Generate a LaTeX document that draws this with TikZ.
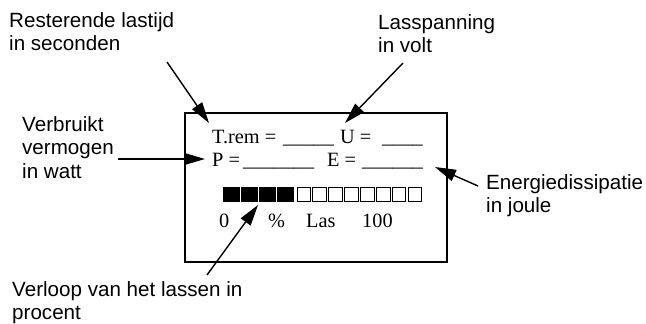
\documentclass[tikz,border=0pt]{standalone}
\usepackage{fontspec}
\setmainfont{Liberation Serif}
\newfontfamily\arialfont{Liberation Sans}
\usetikzlibrary{arrows.meta}
\tikzset{
  lb/.style={font=\arialfont\fontsize{20.6}{23.5}\selectfont,align=left,anchor=north west,inner sep=0pt},
  dt/.style={font=\fontsize{20.3}{24}\selectfont,anchor=base west,inner sep=0pt},
  scr/.style={draw=black,line width=2.8pt},
  ptr/.style={-{Triangle[length=21pt,width=12pt]},line width=1.4pt,draw=black},
  blk/.style={rectangle,draw=black,fill=black,minimum width=16pt,minimum height=13.5pt,inner sep=0pt,line width=.6pt},
  opn/.style={rectangle,draw=black,fill=white,minimum width=13.5pt,minimum height=13.5pt,inner sep=0pt,line width=.9pt},
}
\begin{document}
\begin{tikzpicture}[x=1pt,y=-1pt]
\useasboundingbox (0,0) rectangle (646,324);
% ---------------- the display
\draw[scr] (185,113) rectangle (447,262);
\node[dt] (tr)  at (212,143) {T.rem =};
\node[dt] (tru) at (283,143) {\_\_\_\_\_};
\node[dt] (u)   at (340,143) {U =};
\node[dt] (uu)  at (382,143) {\_\_\_\_};
\node[dt] (p)   at (212,166) {P =};
\node[dt] (pu)  at (243,166) {\_\_\_\_\_\_\_};
\node[dt] (e)   at (327,166) {E =};
\node[dt] (eu)  at (362,166) {\_\_\_\_\_\_};
\foreach \i in {0,...,3}
  \node[blk] (b\i) at ({231.25+18*\i},194.5) {};
\foreach \j in {0,...,7}
  \node[opn] (o\j) at ({303.75+15.9*\j},194.5) {};
\node[dt] (nul) at (219,227) {0};
\node[dt] (pct) at (268,227) {\%};
\node[dt] (las) at (306,227) {Las};
\node[dt] (hnd) at (362,227) {100};
% ---------------- the callouts
\node[lb] (rest) at (9,12)  {Resterende lastijd\\in seconden};
\node[lb] (volt) at (378,14) {Lasspanning\\in volt};
\node[lb] (watt) at (22,116) {Verbruikt\\vermogen\\in watt};
\node[lb] (joul) at (486,174) {Energiedissipatie\\in joule};
\node[lb] (proc) at (12,281) {Verloop van het lassen in\\procent};
\coordinate (r0) at (167,62);  \coordinate (r1) at (209,123);
\coordinate (v0) at (403,63);  \coordinate (v1) at (345,123);
\coordinate (w0) at (118,159); \coordinate (w1) at (205,159);
\coordinate (j0) at (478,186); \coordinate (j1) at (435,167);
\coordinate (p0) at (207,275); \coordinate (p1) at (258,205);
\draw[ptr] (r0) -- (r1);
\draw[ptr] (v0) -- (v1);
\draw[ptr] (w0) -- (w1);
\draw[ptr] (j0) -- (j1);
\draw[ptr] (p0) -- (p1);
\end{tikzpicture}
\end{document}
